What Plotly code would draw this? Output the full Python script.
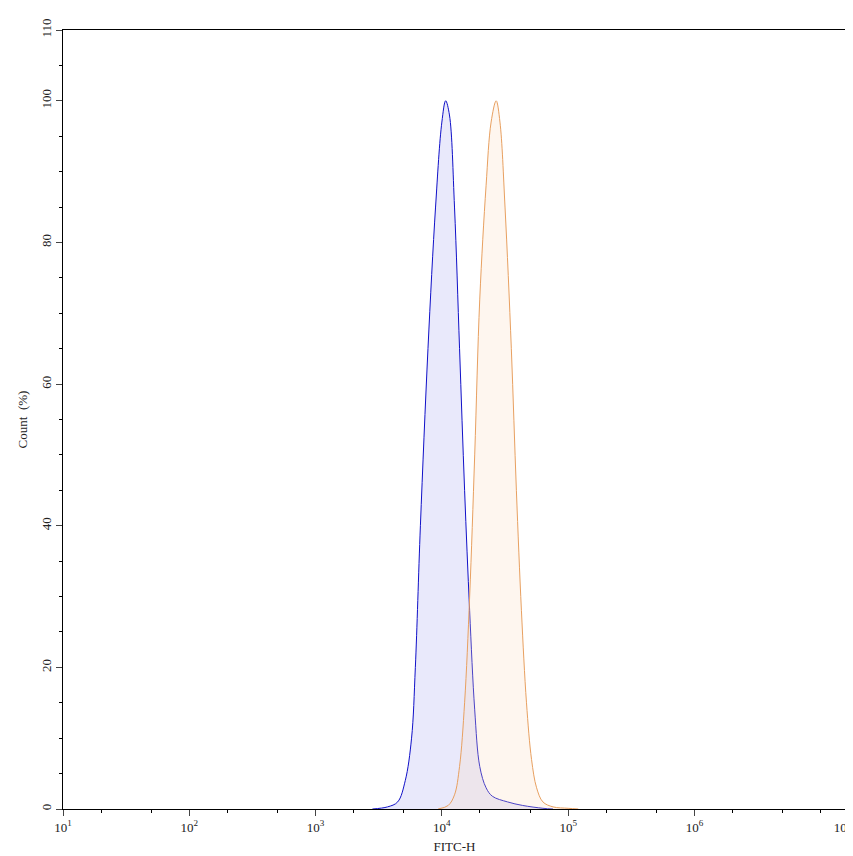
import plotly.graph_objects as go

blue_log = [3.45,3.57,3.65,3.71,3.76,3.79,3.83,3.89,3.95,4.0,4.03,4.06,4.10,4.14,4.18,4.22,4.26,4.30,4.35,4.40,4.52,4.64,4.80,4.88]
blue_y   = [0,0.3,1,4,10,20,40,65,85,97,100,98,85,65,45,28,14,6,3,1.8,1,0.5,0.1,0]
orange_log = [3.97,4.05,4.10,4.14,4.18,4.22,4.26,4.30,4.35,4.39,4.43,4.46,4.50,4.55,4.59,4.63,4.67,4.71,4.75,4.80,4.88,5.0,5.08]
orange_y   = [0,0.5,2,6,15,30,50,72,88,97,100,97,85,65,45,28,15,7,3,1,0.3,0.1,0]
tick_pos = [1,2,3,4,5,6,7.2]
tick_text = ["10<sup>1</sup>","10<sup>2</sup>","10<sup>3</sup>","10<sup>4</sup>","10<sup>5</sup>","10<sup>6</sup>","10<sup>7.2</sup>"]

fig = go.Figure()
fig.add_trace(go.Scatter(x=[10**v for v in blue_log], y=blue_y, mode="lines", line=dict(color="#1010c8", width=1, shape="spline"),
                         fill="tozeroy", fillcolor="rgba(120,120,230,0.16)"))
fig.add_trace(go.Scatter(x=[10**v for v in orange_log], y=orange_y, mode="lines", line=dict(color="#e8a060", width=1, shape="spline"),
                         fill="tozeroy", fillcolor="rgba(250,220,190,0.25)"))
font = dict(family="Liberation Serif, Times New Roman, serif", size=13, color="#222222")
fig.update_layout(width=853, height=856, margin=dict(l=55, r=15, t=22, b=55, autoexpand=False), plot_bgcolor="white",
                  paper_bgcolor="white", showlegend=False, font=font)
fig.update_xaxes(type="log", range=[1, 7.2], tickvals=[10**v for v in tick_pos], ticktext=tick_text, automargin=False,
                 tickfont=font, ticks="outside", ticklen=6, showgrid=False, zeroline=False, showline=True, linecolor="black", mirror=True,
                 minor=dict(ticks="outside", ticklen=3, tickcolor="black", showgrid=False),
                 title=dict(text="FITC-H", font=font, standoff=8))
fig.update_yaxes(range=[0, 110], tickvals=[0,20,40,60,80,100,110], ticks="outside", ticklen=6, tickangle=-90, automargin=False,
                 tickfont=font, showgrid=False, zeroline=False, showline=True, linecolor="black", mirror=True,
                 minor=dict(ticks="outside", ticklen=3, dtick=5, tickcolor="black", showgrid=False),
                 title=dict(text="Count  (%)", font=font, standoff=8))
fig.write_html("out.html")
